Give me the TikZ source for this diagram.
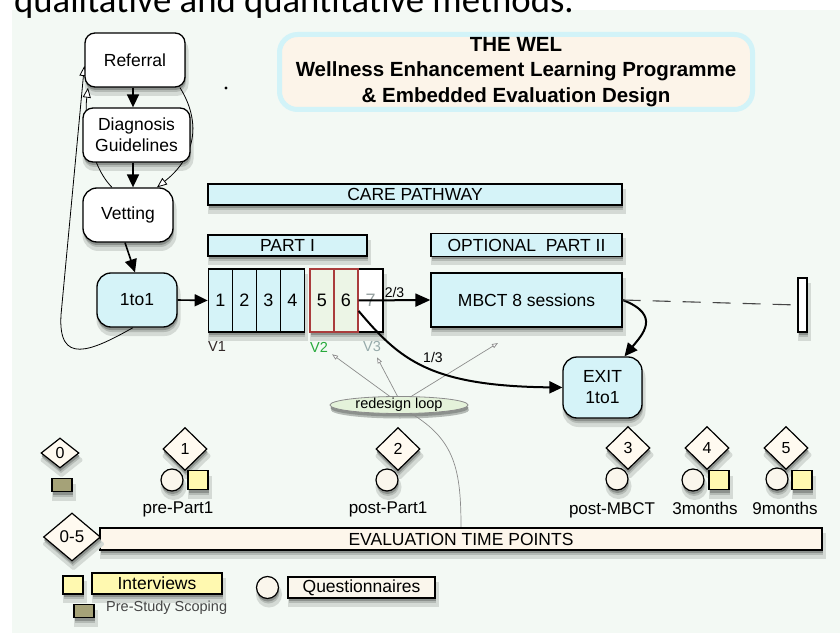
\documentclass[tikz,border=0pt]{standalone}
\usepackage{fontspec}
\setmainfont{Liberation Sans}
\newfontfamily\calibfont[Ligatures=NoCommon]{Carlito}
\usetikzlibrary{arrows.meta,shapes.geometric}
\pgfdeclarelayer{bglayer}
\pgfdeclarelayer{linelayer}
\pgfsetlayers{bglayer,linelayer,main}
\definecolor{bgmint}{RGB}{243,249,244}
\definecolor{lblue}{RGB}{213,243,248}
\definecolor{titlefill}{RGB}{252,244,233}
\definecolor{titleedge}{RGB}{210,243,248}
\definecolor{v2fill}{RGB}{236,245,230}
\definecolor{v2edge}{RGB}{170,60,60}
\definecolor{diafill}{RGB}{255,250,240}
\definecolor{evalfill}{RGB}{253,246,235}
\definecolor{yel}{RGB}{255,249,176}
\definecolor{olive}{RGB}{165,162,120}
\definecolor{circfill}{RGB}{250,246,236}
\definecolor{loopfill}{RGB}{228,242,218}
\definecolor{vgreen}{RGB}{40,170,60}
\definecolor{vgrey}{RGB}{150,170,170}
\definecolor{vdark}{RGB}{50,40,40}
\definecolor{greyline}{RGB}{140,140,140}
\definecolor{seventext}{RGB}{150,160,160}
\definecolor{scopetext}{RGB}{70,70,70}
\definecolor{dashcol}{RGB}{70,70,70}
\definecolor{shadA}{RGB}{212,218,213}
\definecolor{shadB}{RGB}{180,186,181}
\definecolor{shadC}{RGB}{140,145,141}
% soft shadows: centre x, centre y, width, height, corner radius
\newcommand\shrect[5]{%
  \filldraw[shadA, line width=4pt, rounded corners=#5] ({#1-#3/2+1.5},{#2-#4/2+7}) rectangle ({#1+#3/2+1.5},{#2+#4/2+7});
  \fill[shadB, rounded corners=#5] ({#1-#3/2+1},{#2-#4/2+5}) rectangle ({#1+#3/2+1},{#2+#4/2+5});
  \fill[shadC, rounded corners=#5] ({#1-#3/2+0.5},{#2-#4/2+3}) rectangle ({#1+#3/2+0.5},{#2+#4/2+3});}
\newcommand\shdiam[4]{%
  \filldraw[shadA, line width=4pt, line join=round] ({#1+1.5},{#2-#4/2+7}) -- ({#1+#3/2+1.5},{#2+7}) -- ({#1+1.5},{#2+#4/2+7}) -- ({#1-#3/2+1.5},{#2+7}) -- cycle;
  \fill[shadB] ({#1+1},{#2-#4/2+5}) -- ({#1+#3/2+1},{#2+5}) -- ({#1+1},{#2+#4/2+5}) -- ({#1-#3/2+1},{#2+5}) -- cycle;
  \fill[shadC] ({#1+0.5},{#2-#4/2+3}) -- ({#1+#3/2+0.5},{#2+3}) -- ({#1+0.5},{#2+#4/2+3}) -- ({#1-#3/2+0.5},{#2+3}) -- cycle;}
\newcommand\shcirc[2]{%
  \filldraw[shadA, line width=4pt] ({#1+1.5},{#2+7}) circle[radius=11];
  \fill[shadB] ({#1+1},{#2+5}) circle[radius=11];
  \fill[shadC] ({#1+0.5},{#2+3}) circle[radius=11];}
\tikzset{
  txt/.style={font=\fontsize{17.5}{21}\selectfont},
  wbox/.style={draw, fill=white, line width=1.3pt, rounded corners=10pt, inner sep=0pt, align=center, txt},
  bbox/.style={draw, fill=lblue, line width=1.3pt, inner sep=0pt, align=center, txt},
  rbbox/.style={bbox, rounded corners=14pt},
  bar/.style={draw, fill=lblue, line width=1.3pt, inner sep=0pt, txt},
  cell/.style={draw, line width=1.3pt, minimum width=24pt, minimum height=63pt, inner sep=0pt, font=\fontsize{18}{21}\selectfont},
  vlab/.style={inner sep=1pt, font=\fontsize{14.5}{17}\selectfont},
  titlebox/.style={draw=titleedge, fill=titlefill, line width=5pt, rounded corners=18pt, minimum width=473pt, minimum height=75pt, inner sep=0pt, align=center, font=\bfseries\fontsize{20.5}{25.5}\selectfont},
  bigarrow/.style={line width=1.6pt, -{Triangle[length=13pt,width=12pt]}},
  openarrow/.style={line width=0.8pt, -{Triangle[open, fill=white, length=10pt, width=8pt]}},
  looparrow/.style={draw=greyline, line width=0.7pt, -{Triangle[open, fill=white, length=6pt, width=4.5pt]}},
  greycurve/.style={draw=greyline, line width=0.7pt},
  dashline/.style={draw=dashcol, line width=1.1pt, dash pattern=on 18pt off 12pt},
  dia/.style={diamond, draw, fill=diafill, line width=1.2pt, inner sep=0pt, minimum width=44pt, minimum height=43pt, font=\fontsize{16}{18}\selectfont},
  circ/.style={circle, draw, fill=circfill, line width=1.2pt, minimum size=22pt, inner sep=0pt},
  sq/.style={draw, fill=yel, line width=1.2pt, minimum width=20pt, minimum height=19pt, inner sep=0pt},
  osq/.style={draw, fill=olive, line width=1.2pt, minimum width=20pt, minimum height=13pt, inner sep=0pt},
  lab/.style={inner sep=0pt, text height=12.5pt, text depth=3.5pt, font=\fontsize{17}{20}\selectfont},
}
\begin{document}
\begin{tikzpicture}[x=1pt,y=-1pt]
\useasboundingbox (0,0) rectangle (840,644);
\begin{pgfonlayer}{bglayer}
\fill[white] (0,0) rectangle (840,644);
\fill[bgmint] (12,10) rectangle (840,633);
\end{pgfonlayer}
\node[anchor=base west, inner sep=0pt, font=\calibfont\fontsize{36.7}{40}\selectfont] (headline) at (14,13) {qualitative and quantitative methods.};

% title
\node[titlebox] (title) at (516,72) {THE WEL\\Wellness Enhancement Learning Programme\\\& Embedded Evaluation Design};
\node[circle, fill, inner sep=0pt, minimum size=3.2pt] (dot) at (226,88) {};

% left column
\node[wbox, minimum width=100pt, minimum height=54pt] (ref) at (135,60) {Referral};
\node[wbox, minimum width=107pt, minimum height=54pt] (diag) at (136.5,135) {Diagnosis\\Guidelines};
\node[wbox, rounded corners=14pt, minimum width=90pt, minimum height=54pt] (vet) at (128,215) {Vetting};
\node[rbbox, minimum width=80pt, minimum height=54pt] (oneto1) at (137,300) {1to1};

% bars
\node[bar, minimum width=414pt, minimum height=21pt] (care) at (415,194.5) {CARE PATHWAY};
\node[bar, minimum width=159pt, minimum height=21pt] (part1) at (287.5,245.5) {PART I};
\node[bar, minimum width=191pt, minimum height=23pt] (part2) at (526.5,245) {OPTIONAL\ \ PART II};
\node[bbox, minimum width=191pt, minimum height=54pt] (mbct) at (526.5,300) {MBCT 8 sessions};
\node[rbbox, minimum width=79pt, minimum height=61pt] (exit) at (602.5,387.5) {EXIT\\1to1};
\node[draw, fill=white, line width=1.3pt, minimum width=9pt, minimum height=54pt, inner sep=0pt] (endbar) at (802.5,305) {};

% cells
\node[cell, fill=lblue] (c1) at (220.3,300.5) {1};
\node[cell, fill=lblue] (c2) at (244.3,300.5) {2};
\node[cell, fill=lblue] (c3) at (268.3,300.5) {3};
\node[cell, fill=lblue] (c4) at (292.3,300.5) {4};
\node[cell, fill=white, text=seventext, minimum width=25pt] (c7) at (370.5,300.5) {7};
\node[cell, fill=v2fill, draw=v2edge] (c5) at (322,300.5) {5};
\node[cell, fill=v2fill, draw=v2edge] (c6) at (346,300.5) {6};
\node[vlab, text=vdark] (v1) at (217,347) {V1};
\node[vlab, text=vgreen] (v2) at (319,347) {V2};
\node[vlab, text=vgrey] (v3) at (372,347) {V3};

% redesign loop
\node[ellipse, draw=greyline, fill=loopfill, line width=0.8pt, minimum width=138pt, minimum height=17pt, inner sep=0pt, text height=8pt, text depth=2pt, font=\fontsize{14.5}{17}\selectfont] (loop) at (399,405) {redesign loop};
\coordinate (loopend) at (498,343);

% evaluation points
\node[dia, minimum width=38pt, minimum height=30pt] (d0) at (60,453) {0};
\node[dia] (d1) at (185,449) {1};
\node[dia] (d2) at (398,449) {2};
\node[dia] (d3) at (628,448) {3};
\node[dia] (d4) at (707,448) {4};
\node[dia] (d5) at (786,448) {5};
\node[osq] (o0) at (62,485) {};
\node[circ] (q1) at (172,480) {};
\node[sq] (i1) at (198,480) {};
\node[circ] (q2) at (387,480) {};
\node[circ] (q3) at (617,479) {};
\node[circ] (q4) at (693,480) {};
\node[sq] (i4) at (719,480) {};
\node[circ] (q5) at (777,479) {};
\node[sq] (i5) at (802,480) {};
\node[lab] (l1) at (178,509) {pre-Part1};
\node[lab] (l2) at (388,509) {post-Part1};
\node[lab] (l3) at (612,510) {post-MBCT};
\node[lab] (l4) at (705,510) {3months};
\node[lab] (l5) at (785,510) {9months};
\node[bar, fill=evalfill, minimum width=722pt, minimum height=22pt] (evalbar) at (461,539) {EVALUATION TIME POINTS};
\shdiam{72}{537}{57}{48}
\node[dia, minimum width=57pt, minimum height=48pt, font=\fontsize{17}{20}\selectfont] (d05) at (72,537) {0-5};

% legend
\node[sq, minimum height=18pt] (lsq) at (73,585) {};
\node[bar, fill=yel, minimum width=130pt, minimum height=21pt] (lint) at (157,583.5) {Interviews};
\node[osq] (losq) at (84,611) {};
\node[anchor=west, inner sep=0pt, font=\fontsize{14.5}{17}\selectfont, text=scopetext] (lscope) at (106,608) {Pre-Study Scoping};
\node[circ] (lcirc) at (267.5,587.5) {};
\node[bar, fill=circfill, minimum width=147pt, minimum height=21pt] (lq) at (361.5,587.5) {Questionnaires};

% shadows, then connectors, all below the boxes
\begin{pgfonlayer}{linelayer}
\shrect{135}{60}{100}{54}{10}
\shrect{136.5}{135}{107}{54}{10}
\shrect{128}{215}{90}{54}{14}
\shrect{137}{300}{80}{54}{14}
\shrect{415}{194.5}{414}{21}{0}
\shrect{287.5}{245.5}{159}{21}{0}
\shrect{526.5}{245}{191}{23}{0}
\shrect{526.5}{300}{191}{54}{0}
\shrect{602.5}{387.5}{79}{61}{14}
\shrect{802.5}{305}{9}{54}{0}
\shrect{256.3}{300.5}{96}{63}{0}
\shrect{346.5}{300.5}{73}{63}{0}
\fill[shadB] (400,410) ellipse[x radius=69, y radius=8.5];
\fill[shadC] (399.5,408) ellipse[x radius=69, y radius=8.5];
\shdiam{60}{453}{38}{30}
\foreach \cx/\cy in {185/449,398/449,628/448,707/448,786/448} {\shdiam{\cx}{\cy}{44}{43}}
\foreach \cx/\cy in {172/480,387/480,617/479,693/480,777/479,267.5/587.5} {\shcirc{\cx}{\cy}}
\foreach \cx/\cy in {198/480,719/480,802/480} {\shrect{\cx}{\cy}{20}{19}{0}}
\shrect{62}{485}{20}{13}{0}
\shrect{461}{539}{722}{22}{0}
\shrect{73}{585}{20}{18}{0}
\shrect{157}{583.5}{130}{21}{0}
\shrect{84}{611}{20}{13}{0}
\shrect{361.5}{587.5}{147}{21}{0}
\draw[openarrow] ([xshift=-16pt]vet.north) .. controls (90,165) and (84,120) .. ([xshift=-47pt]ref.south);
\draw[openarrow] ([xshift=45pt]ref.south) .. controls (200,120) and (198,155) .. ([xshift=29pt]vet.north);
\draw[openarrow] ([xshift=-4pt]oneto1.south) .. controls (90,352) and (58,365) .. (61,315) -- ([yshift=-6pt]ref.west);
\draw[looparrow] (loop.137) -- ([xshift=3pt,yshift=-1pt]v2.south east);
\draw[looparrow] (loop.100) -- ([xshift=5pt,yshift=-4pt]v3.south);
\draw[looparrow] (loop.35) -- (loopend);
\draw[greycurve] (loop.-35) .. controls (455,440) and (461,470) .. (evalbar.north);
\end{pgfonlayer}

\draw[bigarrow] ([xshift=-2pt]ref.south) -- ([xshift=-3.5pt]diag.north);
\draw[bigarrow] ([xshift=-3.5pt]diag.south) -- ([xshift=5pt]vet.north);
\draw[bigarrow] ([xshift=-3pt]vet.south) -- ([xshift=-2pt]oneto1.north);
\draw[bigarrow] (oneto1.east) -- (c1.west);
\draw[bigarrow, line width=2pt, -{Triangle[length=15pt,width=13pt]}] (c6.east) -- (mbct.west) node[midway, above, inner sep=2pt, font=\fontsize{14}{16}\selectfont] {2/3};
\draw[bigarrow, line width=2pt] ([yshift=-10.5pt]c6.east) .. controls (400,360) and (430,386) .. (exit.west) node[pos=0.47, anchor=south west, inner sep=1pt, font=\fontsize{14}{16}\selectfont] {1/3};
\draw[bigarrow, line width=2pt] (mbct.east) .. controls (662,315) and (642,335) .. ([xshift=22pt]exit.north);
\draw[dashline] (mbct.east) -- (endbar.west);
\end{tikzpicture}
\end{document}
